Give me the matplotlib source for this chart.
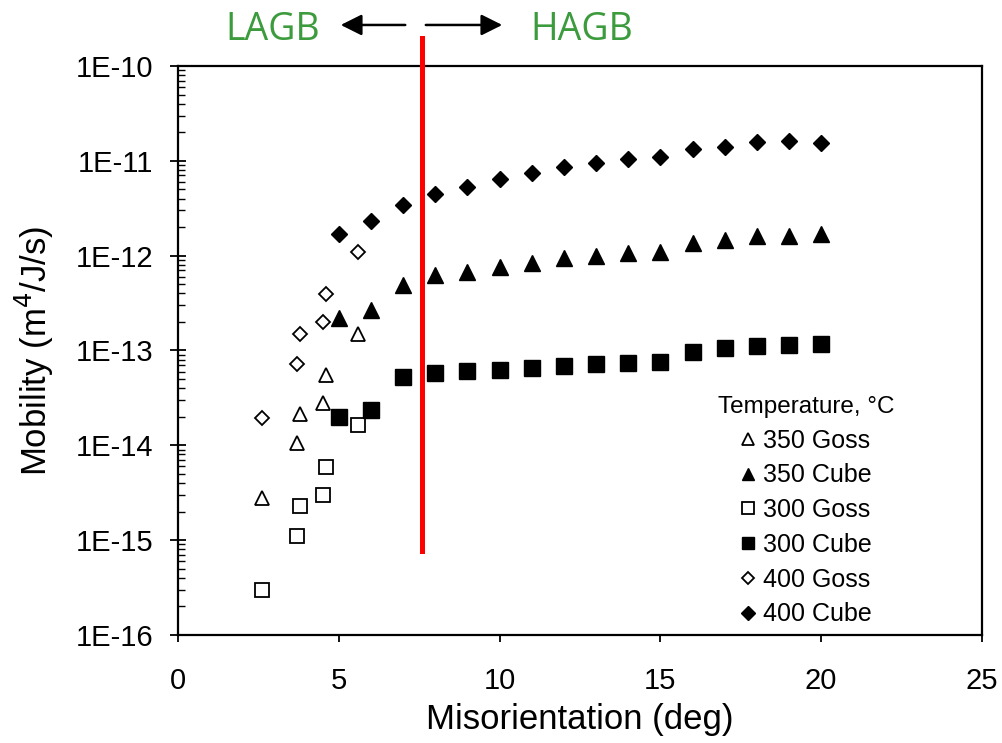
import numpy as np
import matplotlib
matplotlib.use('Agg')
import matplotlib.pyplot as plt
from matplotlib.ticker import FixedLocator, LogLocator, NullFormatter

plt.rcParams['font.family'] = ['Liberation Sans', 'DejaVu Sans']

# ---- data ----
# Goss series (low misorientation only)
goss_x = [2.6, 3.7, 3.8, 4.5, 4.6, 5.6]
goss_350 = [2.75e-15, 1.05e-14, 2.12e-14, 2.8e-14, 5.5e-14, 1.5e-13]
goss_300 = [3.0e-16, 1.1e-15, 2.3e-15, 3.0e-15, 5.9e-15, 1.65e-14]
goss_400 = [1.95e-14, 7.2e-14, 1.5e-13, 2.0e-13, 3.95e-13, 1.1e-12]

# Cube series, 5..20 deg
cube_x = [5, 6, 7, 8, 9, 10, 11, 12, 13, 14, 15, 16, 17, 18, 19, 20]
cube_350 = [2.2e-13, 2.7e-13, 4.9e-13, 6.2e-13, 6.7e-13, 7.6e-13, 8.3e-13, 9.4e-13,
            1.0e-12, 1.06e-12, 1.08e-12, 1.35e-12, 1.46e-12, 1.62e-12, 1.62e-12, 1.68e-12]
cube_300 = [2.0e-14, 2.35e-14, 5.3e-14, 5.8e-14, 6.1e-14, 6.3e-14, 6.5e-14, 6.9e-14,
            7.2e-14, 7.4e-14, 7.6e-14, 9.7e-14, 1.07e-13, 1.11e-13, 1.14e-13, 1.17e-13]
cube_400 = [1.7e-12, 2.3e-12, 3.4e-12, 4.5e-12, 5.25e-12, 6.5e-12, 7.5e-12, 8.7e-12,
            9.5e-12, 1.04e-11, 1.1e-11, 1.32e-11, 1.41e-11, 1.58e-11, 1.62e-11, 1.55e-11]

boundary_x = 7.6          # LAGB / HAGB split
x_ticks = [0, 5, 10, 15, 20, 25]
y_ticks = [1e-16, 1e-15, 1e-14, 1e-13, 1e-12, 1e-11, 1e-10]
y_ticklabels = ['1E-16', '1E-15', '1E-14', '1E-13', '1E-12', '1E-11', '1E-10']

fig = plt.figure(figsize=(10.02, 7.43), dpi=100)
ax = fig.add_axes([0.1776, 0.1454, 0.8024, 0.7658])

open_kw = dict(ls='none', mfc='white', mec='black', mew=1.3)
fill_kw = dict(ls='none', color='black')
ax.plot(goss_x, goss_350, marker='^', ms=10, label='350 Goss', **open_kw)
ax.plot(cube_x, cube_350, marker='^', ms=11, label='350 Cube', **fill_kw)
ax.plot(goss_x, goss_300, marker='s', ms=10, label='300 Goss', **open_kw)
ax.plot(cube_x, cube_300, marker='s', ms=11, label='300 Cube', **fill_kw)
ax.plot(goss_x, goss_400, marker='D', ms=7, label='400 Goss', **open_kw)
ax.plot(cube_x, cube_400, marker='D', ms=8, label='400 Cube', **fill_kw)

ax.set_yscale('log')
ax.set_xlim(0, 25)
ax.set_ylim(1e-16, 1e-10)
ax.xaxis.set_major_locator(FixedLocator(x_ticks))
ax.yaxis.set_major_locator(FixedLocator(y_ticks))
ax.set_yticklabels(y_ticklabels)
ax.yaxis.set_minor_locator(LogLocator(base=10, subs=np.arange(2, 10), numticks=20))
ax.yaxis.set_minor_formatter(NullFormatter())

for s in ax.spines.values():
    s.set_linewidth(1.6)
ax.tick_params(axis='x', which='major', direction='out', length=5, width=1.3,
               labelsize=21, pad=18, top=False)
ax.tick_params(axis='y', which='major', direction='inout', length=12, width=1.3,
               labelsize=21, pad=12, right=False)
ax.tick_params(axis='y', which='minor', direction='in', length=5, width=1.0, right=False)

ax.set_xlabel('Misorientation (deg)', fontsize=25, labelpad=6)
ax.set_ylabel('Mobility (m$^4$/J/s)', fontsize=25, labelpad=14)

# red boundary line, runs past the top of the frame
ax.plot([boundary_x, boundary_x], [0.1476, 1.049], color='red', lw=3.6,
        transform=ax.get_xaxis_transform(), clip_on=False, zorder=5)

# LAGB / HAGB header
green = '#3c9b3c'
fig.text(0.2717, 0.9596, 'LAGB', color=green, fontsize=27, family='Open Sans',
         ha='center', va='center')
fig.text(0.581, 0.9596, 'HAGB', color=green, fontsize=27, family='Open Sans',
         ha='center', va='center')
arrow = dict(arrowstyle='-|>', color='black', lw=1.8, mutation_scale=32)
ax.annotate('', xy=(0.3373, 0.9664), xytext=(0.4072, 0.9664),
            xycoords='figure fraction', textcoords='figure fraction', arrowprops=arrow)
ax.annotate('', xy=(0.504, 0.9664), xytext=(0.4222, 0.9664),
            xycoords='figure fraction', textcoords='figure fraction', arrowprops=arrow)

leg = ax.legend(title='Temperature, °C', loc='upper left',
                bbox_to_anchor=(0.659, 0.4376), frameon=False, fontsize=18,
                title_fontsize=17.5, markerscale=0.85, handlelength=0.6,
                handletextpad=0.3, labelspacing=0.43, borderaxespad=0)

fig.savefig('out.png', dpi=100)
